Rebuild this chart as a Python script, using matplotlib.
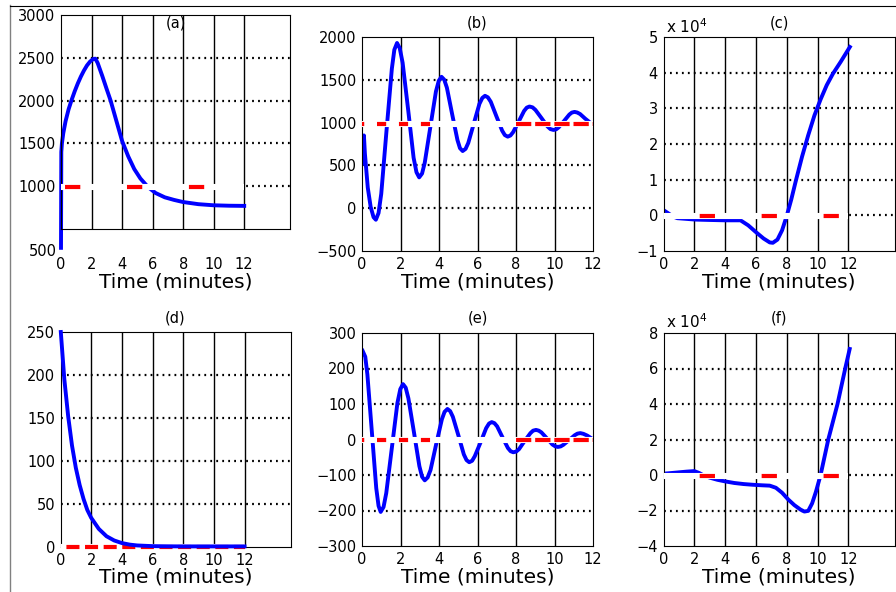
import matplotlib
matplotlib.use('Agg')
import matplotlib.pyplot as plt
from matplotlib.lines import Line2D
import matplotlib.transforms as mtransforms

plt.rcParams['font.family'] = ['DejaVu Sans']
plt.rcParams['lines.scale_dashes'] = False

# ---------------- data ----------------
x_ticks = [0, 2, 4, 6, 8, 10, 12]
x_label = 'Time (minutes)'
panel_labels = ['(a)', '(b)', '(c)', '(d)', '(e)', '(f)']

time_a = [0.0, 0.02, 0.06, 0.15, 0.3, 0.5, 0.7, 0.9, 1.1, 1.3, 1.5, 1.7, 1.9, 2.1,
          2.25, 2.4, 2.7, 3.0, 3.25, 3.6, 4.0, 4.4, 4.8, 5.2, 5.7, 6.2, 6.8, 7.4,
          8.0, 9.0, 10.0, 11.0, 12.0]
value_a = [280, 1400, 1500, 1620, 1760, 1900, 2010, 2110, 2200, 2280, 2350, 2410,
           2455, 2485, 2490, 2440, 2290, 2130, 2000, 1780, 1530, 1350, 1200, 1090,
           990, 920, 870, 840, 815, 790, 777, 772, 770]
setpoint_a = 985
yticks_a = [1000, 1500, 2000, 2500, 3000]

time_b = [0.07, 0.1, 0.15, 0.3, 0.45, 0.6, 0.72, 0.86, 1.0, 1.27, 1.55, 1.68, 1.82,
          1.96, 2.11, 2.4, 2.68, 2.83, 2.97, 3.12, 3.26, 3.55, 3.84, 3.99, 4.13,
          4.27, 4.41, 4.68, 4.96, 5.09, 5.23, 5.38, 5.52, 5.81, 6.1, 6.25, 6.39,
          6.54, 6.69, 6.98, 7.28, 7.42, 7.57, 7.71, 7.85, 8.14, 8.42, 8.56, 8.7,
          8.86, 9.01, 9.33, 9.64, 9.79, 9.95, 10.09, 10.22, 10.5, 10.77, 10.9,
          11.04, 11.18, 11.33, 11.6, 11.85, 12.0]
value_b = [520, 850, 640, 240, 15, -105, -135, -56, 168, 898, 1628, 1851, 1930,
           1870, 1700, 1145, 590, 420, 360, 405, 532, 948, 1363, 1490, 1535, 1502,
           1408, 1102, 795, 701, 668, 693, 762, 990, 1219, 1288, 1313, 1295, 1243,
           1075, 906, 854, 836, 849, 888, 1012, 1136, 1175, 1188, 1178, 1148, 1051,
           954, 924, 914, 922, 945, 1020, 1094, 1117, 1125, 1118, 1100, 1045, 1000,
           978]
setpoint_b = 985
yticks_b = [-500, 0, 500, 1000, 1500, 2000]

time_c = [0.09, 0.3, 0.6, 0.9, 1.5, 2.1, 3.0, 4.0, 5.0, 5.5, 6.0, 6.5, 6.9, 7.1,
          7.4, 7.7, 8.0, 8.3, 8.6, 9.0, 9.4, 9.8, 10.2, 10.6, 11.0, 11.5, 12.1]
value_c = [0.12, 0.06, -0.03, -0.08, -0.1, -0.12, -0.13, -0.14, -0.14, -0.28,
           -0.47, -0.65, -0.76, -0.77, -0.68, -0.42, -0.02, 0.45, 0.98, 1.65, 2.25,
           2.8, 3.25, 3.65, 3.97, 4.3, 4.72]          # x 10^4
setpoint_c = -0.02
yticks_c = [-1, 0, 1, 2, 3, 4, 5]

time_d = [0.02, 0.25, 0.5, 0.75, 1.0, 1.25, 1.5, 1.75, 2.0, 2.5, 3.0, 3.5, 4.0,
          4.5, 5.0, 6.0, 7.0, 8.0, 9.0, 10.0, 11.0, 12.0]
value_d = [250, 195, 152, 118, 92, 72, 56, 43, 34, 21, 12.5, 7.6, 4.6, 2.8, 1.8,
           1.0, 0.8, 0.7, 0.7, 0.7, 0.7, 0.7]
setpoint_d = 0
yticks_d = [0, 50, 100, 150, 200, 250]

time_e = [0.03, 0.17, 0.28, 0.51, 0.74, 0.86, 0.97, 1.12, 1.26, 1.55, 1.84, 1.99,
          2.13, 2.27, 2.41, 2.7, 2.98, 3.12, 3.26, 3.41, 3.56, 3.85, 4.15, 4.29,
          4.44, 4.58, 4.72, 5.01, 5.29, 5.43, 5.57, 5.72, 5.86, 6.16, 6.45, 6.6,
          6.74, 6.88, 7.02, 7.3, 7.58, 7.72, 7.86, 8.01, 8.16, 8.45, 8.75, 8.89,
          9.04, 9.18, 9.32, 9.61, 9.89, 10.03, 10.17, 10.32, 10.46, 10.76, 11.05,
          11.19, 11.34, 11.5, 11.7, 11.9, 12.0]
value_e = [250, 233, 183, 23, -137, -187, -204, -190, -151, -24, 103, 142, 156, 146,
           116, 20, -75, -105, -115, -107, -86, -14, 57, 78, 86, 80, 64, 11, -42,
           -58, -64, -60, -47, -8, 32, 45, 49, 46, 37, 6, -24, -33, -36, -34, -27,
           -4, 18, 25, 27, 25, 20, 3, -14, -19, -21, -19.5, -15, -1.5, 12, 16.5, 18,
           16, 11, 4, 0]
setpoint_e = 0
yticks_e = [-300, -200, -100, 0, 100, 200, 300]

time_f = [0.09, 0.5, 1.0, 1.5, 2.0, 2.3, 2.6, 3.0, 3.5, 4.0, 4.6, 5.2, 5.8, 6.4,
          6.9, 7.3, 7.7, 8.1, 8.5, 8.9, 9.15, 9.4, 9.65, 9.9, 10.2, 10.5, 10.7,
          11.0, 11.3, 11.55, 11.8, 12.09]
value_f = [0.08, 0.11, 0.15, 0.19, 0.22, 0.12, -0.02, -0.15, -0.27, -0.36, -0.45,
           -0.51, -0.55, -0.58, -0.6, -0.72, -1.0, -1.38, -1.7, -1.95, -2.06, -2.02,
           -1.6, -0.94, 0.0, 1.2, 2.0, 3.0, 4.0, 5.0, 6.0, 7.1]   # x 10^4
setpoint_f = -0.05
yticks_f = [-4, -2, 0, 2, 4, 6, 8]

setpoint_span = [0, 12]

# ---------------- layout ----------------
W, H = 896, 592
fig = plt.figure(figsize=(W / 100, H / 100), dpi=100)
fig.patch.set_facecolor('white')


def box(l, t, r, b):
    return [l / W, 1 - b / H, (r - l) / W, (b - t) / H]


BLUE = '#0000ff'
RED = '#ff0000'
DOT = (0, (1.3, 3.0))


def make_axes(rect, xmax, ylim, yticks):
    ax = fig.add_axes(box(*rect))
    ax.set_xlim(0, xmax)
    ax.set_ylim(*ylim)
    ax.set_xticks(x_ticks)
    ax.set_yticks(yticks)
    ax.tick_params(length=0, labelsize=10.5, pad=4, colors='k')
    ax.grid(axis='x', color='k', lw=1.0, ls='-')
    ax.grid(axis='y', color='k', lw=1.6, ls=DOT)
    for t, v in zip(ax.yaxis.get_major_ticks(len(yticks)), yticks):
        if v <= ylim[0] or v >= ylim[1]:
            t.gridline.set_visible(False)
    for t, v in zip(ax.xaxis.get_major_ticks(len(x_ticks)), x_ticks):
        if v <= 0 or v >= xmax:
            t.gridline.set_visible(False)
    for s in ax.spines.values():
        s.set_linewidth(0.8)
        s.set_color('k')
    return ax


def xlabel(ax, rect, center_y):
    ax.set_xlabel(x_label, fontsize=14.5)
    l, t, r, b = rect
    ax.xaxis.set_label_coords(0.5, (b - center_y) / (b - t))
    ax.xaxis.label.set_verticalalignment('center')


def setpoint(ax, level, dashes_list, clip=True):
    ax.plot(setpoint_span, [level, level], color='white', lw=4.4,
            solid_capstyle='butt', zorder=3, clip_on=clip)
    for span, dash in dashes_list:
        ax.plot(span, [level, level], color=RED, lw=3.0, ls=dash,
                dash_capstyle='butt', zorder=4, clip_on=clip)


sparse_a = (41.7, (11.0, 33.6))
sparse_cf = (18.9, (11.0, 33.6))
dense_1 = (5.0, (6.6, 9.2))
dense_2 = (0.0, (11.0, 2.8))
dense_d = (9.5, (9.4, 4.0))

rects = {
    'a': (61, 15, 290, 229),
    'b': (362, 37, 593, 251),
    'c': (663.5, 37, 894.5, 251),
    'd': (60.5, 332, 290.5, 547),
    'e': (362, 333, 593, 546),
    'f': (663.5, 333, 894.5, 546),
}

# (a)
ax = make_axes(rects['a'], 15, (500, 3000), yticks_a)
ax.tick_params(axis='x', pad=4 + 22 * 0.72)
ax.plot(time_a, value_a, color=BLUE, lw=2.8, zorder=2, clip_on=False)
setpoint(ax, setpoint_a, [(setpoint_span, sparse_a)])
ax.text(-4 / 229, 500, '500', fontsize=10.5, ha='right', va='center',
        transform=mtransforms.blended_transform_factory(ax.transAxes, ax.transData)
        + mtransforms.ScaledTranslation(0, -23 / 100, fig.dpi_scale_trans))
xlabel(ax, rects['a'], 282)

# (b)
ax = make_axes(rects['b'], 12, (-500, 2000), yticks_b)
ax.plot(time_b, value_b, color=BLUE, lw=2.8, zorder=2)
setpoint(ax, setpoint_b, [([0, 4], dense_1), ([8, 12], dense_2)])
xlabel(ax, rects['b'], 282)

# (c)
ax = make_axes(rects['c'], 15, (-1, 5), yticks_c)
ax.plot(time_c, value_c, color=BLUE, lw=2.8, zorder=2)
setpoint(ax, setpoint_c, [(setpoint_span, sparse_cf)])
xlabel(ax, rects['c'], 282)

# (d)
ax = make_axes(rects['d'], 15, (0, 250), yticks_d)
setpoint(ax, setpoint_d, [([0.0, 12], dense_d)], clip=False)
ax.plot(time_d, value_d, color=BLUE, lw=2.8, zorder=5, clip_on=False)
xlabel(ax, rects['d'], 577)

# (e)
ax = make_axes(rects['e'], 12, (-300, 300), yticks_e)
ax.plot(time_e, value_e, color=BLUE, lw=2.8, zorder=2)
setpoint(ax, setpoint_e, [([0, 4], dense_1), ([8, 12], dense_2)])
xlabel(ax, rects['e'], 577)

# (f)
ax = make_axes(rects['f'], 15, (-4, 8), yticks_f)
ax.plot(time_f, value_f, color=BLUE, lw=2.8, zorder=2)
setpoint(ax, setpoint_f, [(setpoint_span, sparse_cf)])
xlabel(ax, rects['f'], 577)

# panel titles
title_pos = [(175.5, 23), (477.5, 23), (779, 23), (175.5, 318), (477.5, 318), (779, 318)]
for lab, (cx, cy) in zip(panel_labels, title_pos):
    fig.text(cx / W, 1 - cy / H, lab, ha='center', va='center', fontsize=10.5)

# exponent labels
for cy in (27, 322):
    fig.text(666 / W, 1 - cy / H, r'x 10$^4$', ha='left', va='center', fontsize=11)

# frame lines
fig.add_artist(Line2D([9.5 / W, 9.5 / W], [0, 1 - 5 / H], color='#808080', lw=1.0,
                      transform=fig.transFigure))
fig.add_artist(Line2D([9.5 / W, 1], [1 - 5.5 / H, 1 - 5.5 / H], color='k', lw=0.8,
                      transform=fig.transFigure))

fig.savefig('out.png', dpi=100, facecolor='white')
